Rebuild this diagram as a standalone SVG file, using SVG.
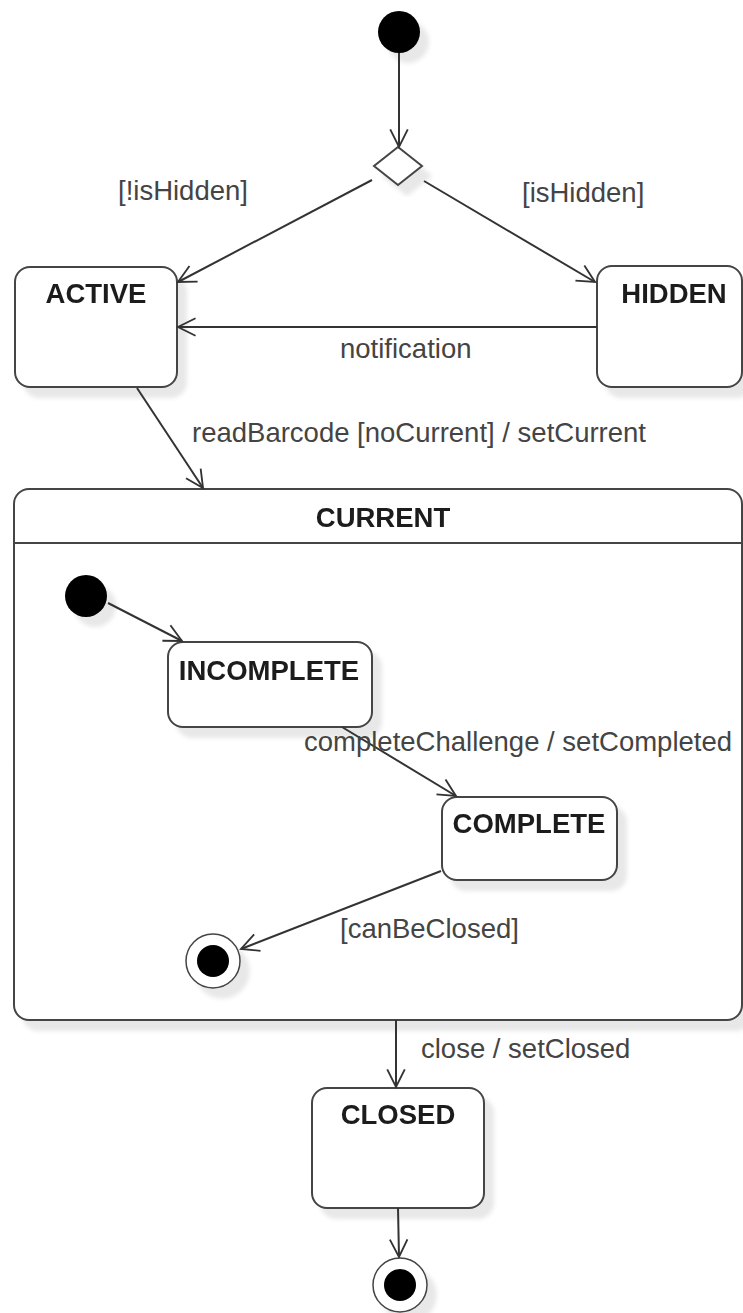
<svg xmlns="http://www.w3.org/2000/svg" width="743" height="1313" viewBox="0 0 743 1313">
  <defs>
    <filter id="shadow" x="-20%" y="-20%" width="150%" height="150%">
      <feOffset in="SourceAlpha" dx="9" dy="10" result="off"/>
      <feGaussianBlur in="off" stdDeviation="2" result="blur"/>
      <feFlood flood-color="#000" flood-opacity="0.09"/>
      <feComposite in2="blur" operator="in" result="sh"/>
      <feMerge>
        <feMergeNode in="sh"/>
        <feMergeNode in="SourceGraphic"/>
      </feMerge>
    </filter>
    <marker id="open" markerUnits="userSpaceOnUse" markerWidth="24" markerHeight="24" viewBox="-22 -12 26 24" refX="0" refY="0" orient="auto">
      <path d="M-19,-9.5 L0,0 L-19,9.5" fill="none" stroke="#333" stroke-width="2"/>
    </marker>
  </defs>
  <style>
    .state { fill: #fff; stroke: #444; stroke-width: 2; }
    .title { font-family: "Liberation Sans", Arial, sans-serif; font-size: 27.5px; font-weight: bold; fill: #1a1a1a; text-anchor: middle; }
    .label { font-family: "Liberation Sans", Arial, sans-serif; font-size: 27.5px; fill: #444; }
    .edge { fill: none; stroke: #333; stroke-width: 2; marker-end: url(#open); }
    .dot { fill: #000; }
    .ring { fill: #fff; stroke: #444; stroke-width: 1.5; }
  </style>

  <!-- composite state drawn first so nested states sit on top -->
  <g id="current" filter="url(#shadow)">
    <rect class="state" x="14" y="489" width="728" height="531" rx="15"/>
    <line x1="14" y1="543" x2="742" y2="543" stroke="#444" stroke-width="2"/>
    <text class="title" x="383" y="527">CURRENT</text>
  </g>

  <g id="start" filter="url(#shadow)">
    <circle class="dot" cx="399" cy="32" r="21"/>
  </g>

  <g id="choice" filter="url(#shadow)">
    <polygon class="state" points="398,147 422,166 398,185 374,166"/>
  </g>

  <g id="active" filter="url(#shadow)">
    <rect class="state" x="15" y="267" width="162" height="120" rx="15"/>
    <text class="title" x="96" y="303">ACTIVE</text>
  </g>

  <g id="hidden" filter="url(#shadow)">
    <rect class="state" x="597" y="266" width="145" height="121" rx="15"/>
    <text class="title" x="674" y="303">HIDDEN</text>
  </g>

  <g id="current-start" filter="url(#shadow)">
    <circle class="dot" cx="86" cy="596" r="21"/>
  </g>

  <g id="incomplete" filter="url(#shadow)">
    <rect class="state" x="168" y="642" width="204" height="85" rx="15"/>
    <text class="title" x="269" y="680">INCOMPLETE</text>
  </g>

  <g id="complete" filter="url(#shadow)">
    <rect class="state" x="442" y="797" width="175" height="83" rx="15"/>
    <text class="title" x="529" y="833">COMPLETE</text>
  </g>

  <g id="current-end" filter="url(#shadow)">
    <circle class="ring" cx="213" cy="961" r="27"/>
    <circle class="dot" cx="213" cy="961" r="16"/>
  </g>

  <g id="closed" filter="url(#shadow)">
    <rect class="state" x="312" y="1088" width="172" height="120" rx="15"/>
    <text class="title" x="398" y="1124">CLOSED</text>
  </g>

  <g id="end" filter="url(#shadow)">
    <circle class="ring" cx="400" cy="1285" r="27"/>
    <circle class="dot" cx="400" cy="1285" r="16"/>
  </g>

  <!-- transitions -->
  <g id="connectors">
    <line class="edge" x1="399" y1="53" x2="399" y2="147" stroke="#555" stroke-width="2.5"/>
    <line class="edge" x1="372" y1="180" x2="178" y2="282"/>
    <line class="edge" x1="424" y1="181" x2="595" y2="282"/>
    <line class="edge" x1="597" y1="327" x2="178" y2="327"/>
    <line class="edge" x1="137" y1="388" x2="203" y2="488"/>
    <line class="edge" x1="108" y1="603" x2="182" y2="641"/>
    <line class="edge" x1="342" y1="727" x2="456" y2="796"/>
    <line class="edge" x1="441" y1="871" x2="241" y2="949"/>
    <line class="edge" x1="396" y1="1020" x2="396" y2="1087"/>
    <line class="edge" x1="398" y1="1208" x2="399" y2="1257"/>

    <text class="label" x="118" y="200">[!isHidden]</text>
    <text class="label" x="522" y="202">[isHidden]</text>
    <text class="label" x="340" y="358">notification</text>
    <text class="label" x="192" y="442">readBarcode [noCurrent] / setCurrent</text>
    <text class="label" x="304" y="751">completeChallenge / setCompleted</text>
    <text class="label" x="340" y="938">[canBeClosed]</text>
    <text class="label" x="421" y="1058">close / setClosed</text>
  </g>
</svg>
